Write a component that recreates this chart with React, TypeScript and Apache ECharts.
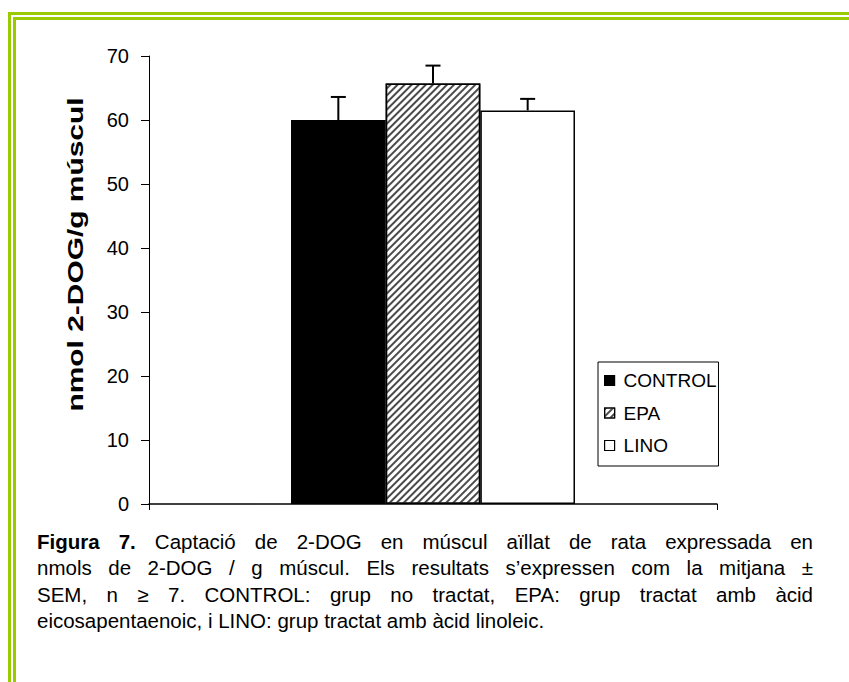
import React, { useEffect, useRef } from 'react';
import * as echarts from 'echarts';

const categories = [''];
const seriesNames = ['CONTROL', 'EPA', 'LINO'];
const meanValues = [60.0, 65.7, 61.5];
const semValues = [3.6, 2.8, 1.8];
const yMin = 0;
const yMax = 70;
const yInterval = 10;
const yTitle = 'nmol 2-DOG/g múscul';

const captionLines: { t: string; bold?: boolean }[][] = [
  [
    { t: 'Figura', bold: true }, { t: '7.', bold: true }, { t: 'Captació' }, { t: 'de' }, { t: '2-DOG' },
    { t: 'en' }, { t: 'múscul' }, { t: 'aïllat' }, { t: 'de' }, { t: 'rata' }, { t: 'expressada' }, { t: 'en' },
  ],
  [
    { t: 'nmols' }, { t: 'de' }, { t: '2-DOG' }, { t: '/' }, { t: 'g' }, { t: 'múscul.' }, { t: 'Els' },
    { t: 'resultats' }, { t: 's’expressen' }, { t: 'com' }, { t: 'la' }, { t: 'mitjana' }, { t: '±' },
  ],
  [
    { t: 'SEM,' }, { t: 'n' }, { t: '≥' }, { t: '7.' }, { t: 'CONTROL:' }, { t: 'grup' }, { t: 'no' },
    { t: 'tractat,' }, { t: 'EPA:' }, { t: 'grup' }, { t: 'tractat' }, { t: 'amb' }, { t: 'àcid' },
  ],
];
const captionLastLine = 'eicosapentaenoic, i LINO: grup tractat amb àcid linoleic.';

const FONT = '"Liberation Sans", Arial, sans-serif';
const CAP_FS = 20.5;
const CAP_LEFT = 37;
const CAP_RIGHT = 813;
const CAP_Y = [541, 567.5, 594, 620.5];

function buildCaption(): any[] {
  const canvas = document.createElement('canvas');
  const ctx = canvas.getContext('2d')!;
  const els: any[] = [];
  captionLines.forEach((words, li) => {
    const widths = words.map((w) => {
      ctx.font = (w.bold ? 'bold ' : '') + CAP_FS + 'px "Liberation Sans"';
      return ctx.measureText(w.t).width;
    });
    const total = widths.reduce((a, b) => a + b, 0);
    const gap = (CAP_RIGHT - CAP_LEFT - total) / (words.length - 1);
    let x = CAP_LEFT;
    words.forEach((w, i) => {
      els.push({
        type: 'text',
        x,
        y: CAP_Y[li],
        silent: true,
        style: {
          text: w.t,
          fill: '#000',
          font: (w.bold ? 'bold ' : '') + CAP_FS + 'px ' + FONT,
          align: 'left',
          verticalAlign: 'middle',
        },
      });
      x += widths[i] + gap;
    });
  });
  els.push({
    type: 'text',
    x: CAP_LEFT,
    y: CAP_Y[3],
    silent: true,
    style: {
      text: captionLastLine,
      fill: '#000',
      font: CAP_FS + 'px ' + FONT,
      align: 'left',
      verticalAlign: 'middle',
    },
  });
  return els;
}

export default function App() {
  const ref = useRef<HTMLDivElement>(null);
  useEffect(() => {
    const chart = echarts.init(ref.current!, null, { renderer: 'svg' });
    const fills = ['#000000', '#ffffff', '#ffffff'];
    const barSeries = seriesNames.map((name, i) => ({
      name,
      type: 'bar',
      data: [meanValues[i]],
      barGap: '0%',
      barCategoryGap: '50%',
      itemStyle: {
        color: fills[i],
        borderColor: '#000',
        borderWidth: 1.5,
        decal:
          i === 1
            ? {
                symbol: 'rect',
                symbolSize: 1,
                dashArrayX: [1, 0],
                dashArrayY: [2, 2.6],
                rotation: -Math.PI / 4,
                color: '#4a4a4a',
              }
            : undefined,
      },
      emphasis: { disabled: true },
      z: 2,
    }));
    const errData = seriesNames.map((_, i) => [0, meanValues[i], semValues[i], i]);
    const errorSeries = {
      type: 'custom',
      name: 'SEM',
      data: errData,
      encode: { x: 0, y: 1 },
      z: 5,
      silent: true,
      renderItem: (params: any, api: any) => {
        const v = api.value(1);
        const e = api.value(2);
        const idx = api.value(3);
        const base = api.coord([0, v]);
        const top = api.coord([0, v + e]);
        const band = api.size([1, 0])[0];
        const bw = (band * 0.5) / seriesNames.length;
        const cx = base[0] + (idx - (seriesNames.length - 1) / 2) * bw;
        const half = 7.5;
        const st = { stroke: '#000', lineWidth: 2 };
        return {
          type: 'group',
          children: [
            { type: 'line', shape: { x1: cx, y1: base[1], x2: cx, y2: top[1] }, style: st },
            { type: 'line', shape: { x1: cx - half, y1: top[1], x2: cx + half, y2: top[1] }, style: st },
          ],
        };
      },
    };
    const option: any = {
      animation: false,
      backgroundColor: '#ffffff',
      textStyle: { fontFamily: FONT },
      grid: { left: 149, right: 132, top: 56, bottom: 178 },
      xAxis: {
        type: 'category',
        data: categories,
        boundaryGap: true,
        axisLine: { show: true, lineStyle: { color: '#000', width: 1.5 } },
        axisTick: { show: true, length: 6, lineStyle: { color: '#000', width: 1 } },
        axisLabel: { show: false },
        splitLine: { show: false },
      },
      yAxis: {
        type: 'value',
        min: yMin,
        max: yMax,
        interval: yInterval,
        axisLine: { show: true, lineStyle: { color: '#000', width: 1 } },
        axisTick: { show: true, length: 8, lineStyle: { color: '#000', width: 1 } },
        axisLabel: { color: '#000', fontSize: 20, margin: 20, fontFamily: FONT },
        splitLine: { show: false },
      },
      legend: {
        data: seriesNames,
        orient: 'vertical',
        left: 598,
        top: 362,
        padding: [9, 2, 11, 6],
        itemGap: 13.5,
        itemWidth: 10,
        itemHeight: 10,
        icon: 'rect',
        borderColor: '#000',
        borderWidth: 1,
        borderRadius: 0,
        selectedMode: false,
        itemStyle: { borderColor: '#000', borderWidth: 1.2 },
        textStyle: { color: '#000', fontSize: 19, fontFamily: FONT, padding: [0, 0, 0, 4] },
      },
      series: [...barSeries, errorSeries],
      graphic: [
        {
          type: 'rect',
          silent: true,
          shape: { x: 9.5, y: 13.5, width: 1200, height: 1200 },
          style: { fill: 'none', stroke: '#99cc00', lineWidth: 3 },
        },
        {
          type: 'rect',
          silent: true,
          shape: { x: 14.5, y: 18.5, width: 1200, height: 1200 },
          style: { fill: 'none', stroke: '#99cc00', lineWidth: 3 },
        },
        {
          type: 'text',
          x: 75,
          y: 254.5,
          rotation: Math.PI / 2,
          scaleX: 1.36,
          silent: true,
          style: {
            text: yTitle,
            fill: '#000',
            font: 'bold 22px ' + FONT,
            align: 'center',
            verticalAlign: 'middle',
          },
        },
        ...buildCaption(),
      ],
    };
    chart.setOption(option);
    return () => chart.dispose();
  }, []);
  return (
    <div
      ref={ref}
      style={{ position: 'absolute', left: 0, top: 0, width: 849, height: 682 }}
    />
  );
}
